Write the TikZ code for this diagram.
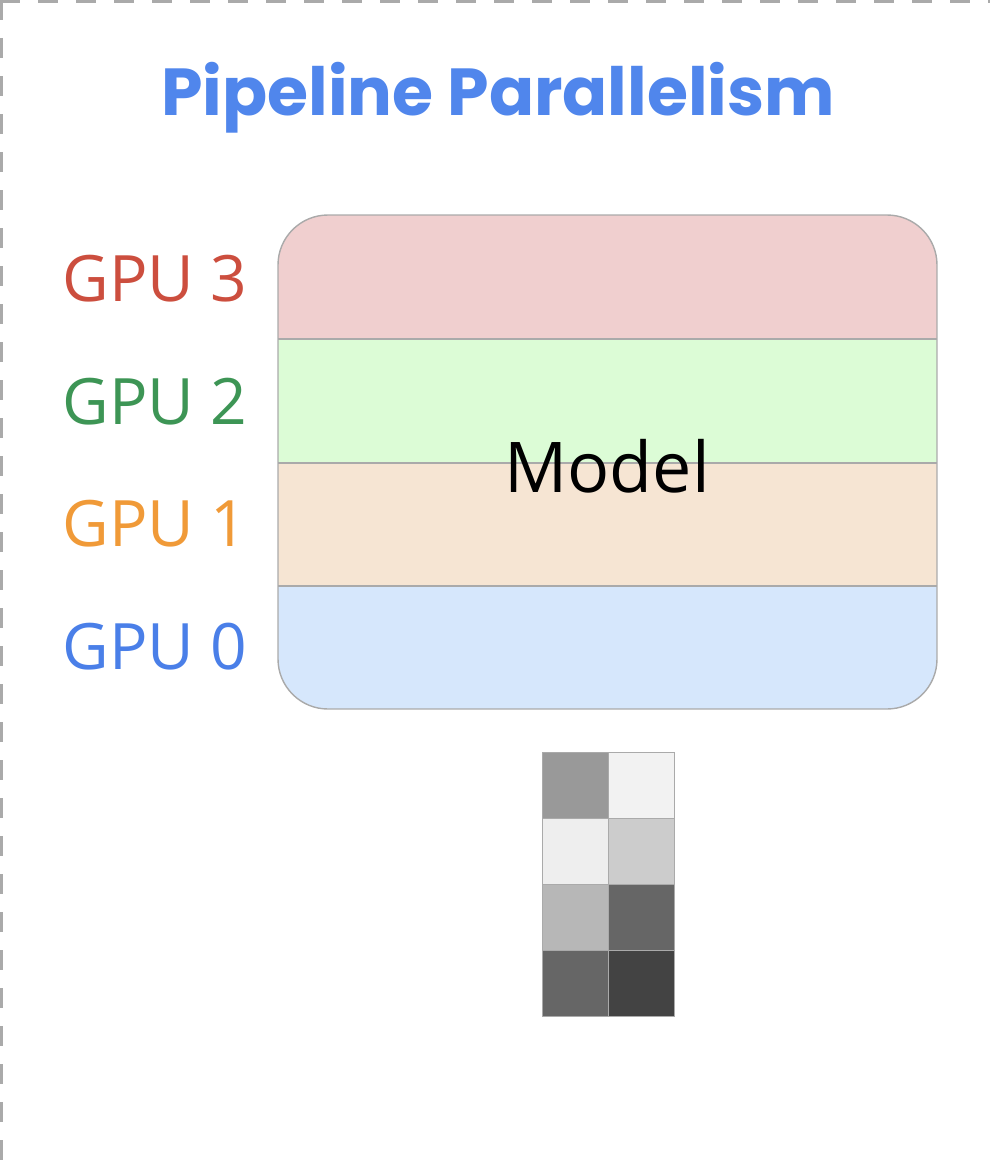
\documentclass[tikz,border=0pt]{standalone}
\usepackage{fontspec}
\setmainfont{Open Sans}
\newfontfamily\titlefont{Poppins}
\definecolor{bordergray}{HTML}{AAAAAA}
\definecolor{titleblue}{HTML}{5086EC}
\definecolor{gpured}{HTML}{CC4E3E}
\definecolor{gpugreen}{HTML}{3D9555}
\definecolor{gpuorange}{HTML}{F09A38}
\definecolor{gpublue}{HTML}{4A7FE8}
\definecolor{bandred}{HTML}{F0CFCF}
\definecolor{bandgreen}{HTML}{DCFCD6}
\definecolor{bandorange}{HTML}{F6E5D3}
\definecolor{bandblue}{HTML}{D6E7FC}
\begin{document}
\begin{tikzpicture}[x=1pt,y=-1pt,
  gpulabel/.style={anchor=base,font=\fontsize{64}{68}\selectfont,inner sep=0pt},
  cell/.style={draw=bordergray,line width=1.2pt,minimum size=66pt,inner sep=0pt,anchor=north west},
  frame/.style={draw=bordergray,line width=2.2pt,dash pattern=on 20pt off 18pt}]
\useasboundingbox (0,0) rectangle (990,1164);
\begin{scope}
\clip (0,0) rectangle (990,1164);
\draw[frame] (1.5,0) -- (1.5,1164);
\draw[frame] (0,1.5) -- (990,1.5);
\end{scope}
% title
\node[anchor=base,text=titleblue,inner sep=0pt,font=\titlefont\bfseries\fontsize{66.5}{70}\selectfont] (title) at (498,115) {Pipeline Parallelism};
% model box
\begin{scope}
\clip[rounded corners=50pt] (278,215) rectangle (937,709);
\fill[bandred] (278,215) rectangle (937,339);
\fill[bandgreen] (278,339) rectangle (937,463);
\fill[bandorange] (278,463) rectangle (937,586);
\fill[bandblue] (278,586) rectangle (937,709);
\draw[bordergray,line width=1.2pt] (278,339) -- (937,339);
\draw[bordergray,line width=1.2pt] (278,463) -- (937,463);
\draw[bordergray,line width=1.2pt] (278,586) -- (937,586);
\end{scope}
\draw[bordergray,line width=1.4pt,rounded corners=50pt] (278,215) rectangle (937,709);
\node[anchor=base,inner sep=0pt,font=\fontsize{70}{74}\selectfont] (model) at (607,492) {Model};
% GPU labels
\node[gpulabel,text=gpured] (gpu3) at (155,301) {GPU 3};
\node[gpulabel,text=gpugreen] (gpu2) at (155,424) {GPU 2};
\node[gpulabel,text=gpuorange] (gpu1) at (155,546) {GPU 1};
\node[gpulabel,text=gpublue] (gpu0) at (155,669) {GPU 0};
% grid
\node[cell,fill={rgb,255:red,153;green,153;blue,153}] (c11) at (542,752) {};
\node[cell,fill={rgb,255:red,242;green,242;blue,242}] (c12) at (608,752) {};
\node[cell,fill={rgb,255:red,238;green,238;blue,238}] (c21) at (542,818) {};
\node[cell,fill={rgb,255:red,204;green,204;blue,204}] (c22) at (608,818) {};
\node[cell,fill={rgb,255:red,183;green,183;blue,183}] (c31) at (542,884) {};
\node[cell,fill={rgb,255:red,102;green,102;blue,102}] (c32) at (608,884) {};
\node[cell,fill={rgb,255:red,102;green,102;blue,102}] (c41) at (542,950) {};
\node[cell,fill={rgb,255:red,67;green,67;blue,67}] (c42) at (608,950) {};
\end{tikzpicture}
\end{document}
